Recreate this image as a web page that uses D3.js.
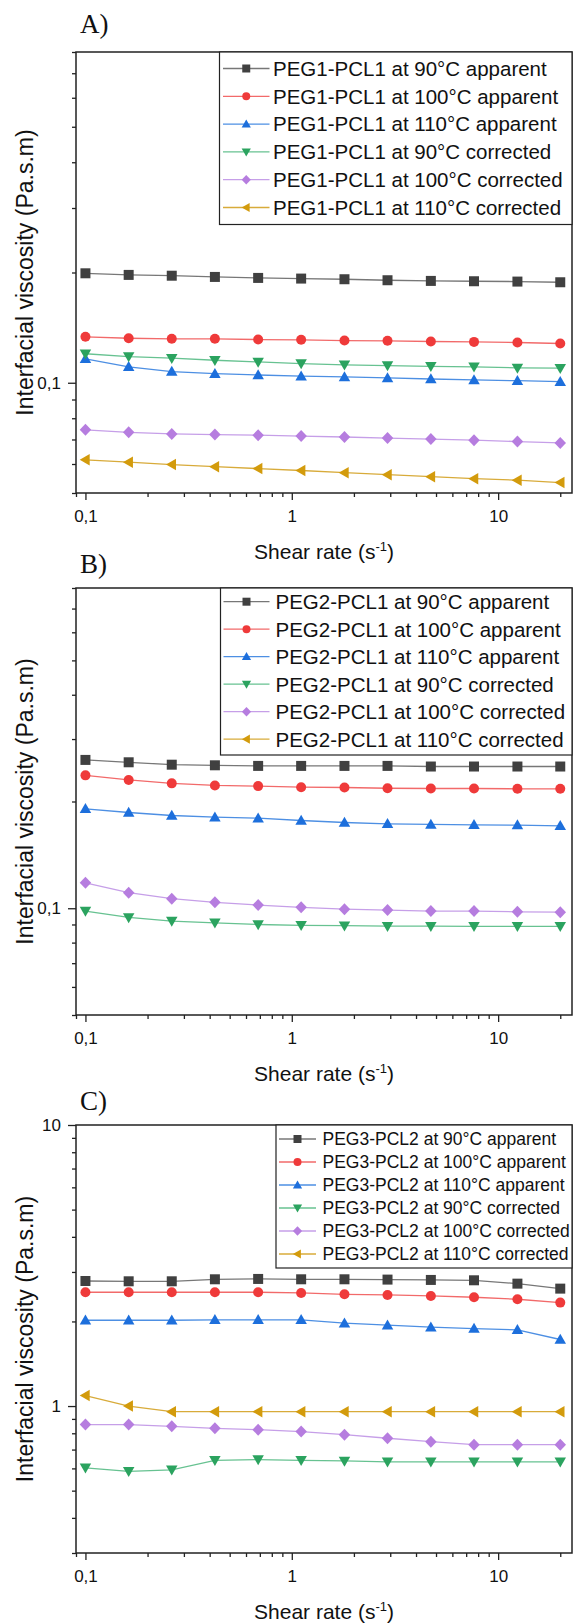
<!DOCTYPE html>
<html>
<head>
<meta charset="utf-8">
<script src="https://d3js.org/d3.v7.min.js"></script>
<style>
body { margin: 0; background: #fff; }
svg text { font-family: "Liberation Sans", Arial, sans-serif; fill: #111; }
</style>
</head>
<body>
<svg id="page"></svg>
<script>
// shear rate (s-1), same sweep in all three panels
var shearRate = [0.1, 0.162, 0.262, 0.424, 0.687, 1.11, 1.8, 2.91, 4.72, 7.64, 12.4, 20];
var xTickValues = [0.1, 1, 10];
var xTickLabels = ["0,1", "1", "10"];
var xMinorTicks = [0.09, 0.2, 0.3, 0.4, 0.5, 0.6, 0.7, 0.8, 0.9, 2, 3, 4, 5, 6, 7, 8, 9, 20];

var seriesSuffix = ["at 90°C apparent", "at 100°C apparent", "at 110°C apparent",
  "at 90°C corrected", "at 100°C corrected", "at 110°C corrected"];

// A) PEG1-PCL1
var a90app = [0.199, 0.197, 0.196, 0.1945, 0.1933, 0.1925, 0.1917, 0.1905, 0.1897, 0.1893, 0.1889, 0.1881];
var a100app = [0.1335, 0.1323, 0.1318, 0.1318, 0.1312, 0.131, 0.1304, 0.1302, 0.1296, 0.1293, 0.1288, 0.128];
var a110app = [0.1162, 0.1105, 0.1073, 0.1059, 0.105, 0.1042, 0.1037, 0.1031, 0.1024, 0.1018, 0.1013, 0.1007];
var a90cor = [0.12, 0.1179, 0.1167, 0.1152, 0.114, 0.1128, 0.1119, 0.1114, 0.1109, 0.1105, 0.1098, 0.1096];
var a100cor = [0.0744, 0.0732, 0.0725, 0.0722, 0.0719, 0.0715, 0.0711, 0.0706, 0.0702, 0.0697, 0.0691, 0.0685];
var a110cor = [0.0616, 0.0607, 0.0598, 0.059, 0.0583, 0.0576, 0.0568, 0.0561, 0.0554, 0.0547, 0.0542, 0.0534];

// B) PEG2-PCL1 (no 110°C corrected points drawn)
var b90app = [0.262, 0.258, 0.254, 0.253, 0.252, 0.252, 0.252, 0.252, 0.251, 0.251, 0.251, 0.251];
var b100app = [0.237, 0.23, 0.225, 0.222, 0.221, 0.2195, 0.219, 0.218, 0.2176, 0.2176, 0.2172, 0.2172];
var b110app = [0.1907, 0.1862, 0.1826, 0.1806, 0.1795, 0.1768, 0.1745, 0.173, 0.1723, 0.1719, 0.1716, 0.1708];
var b90cor = [0.0982, 0.0942, 0.092, 0.091, 0.09, 0.0895, 0.0893, 0.089, 0.089, 0.0889, 0.0889, 0.0889];
var b100cor = [0.118, 0.1106, 0.1064, 0.1039, 0.1021, 0.1006, 0.0994, 0.0988, 0.0982, 0.0982, 0.0977, 0.0975];
var b110cor = [];

// C) PEG3-PCL2
var c90app = [2.786, 2.779, 2.779, 2.825, 2.833, 2.825, 2.825, 2.818, 2.81, 2.802, 2.726, 2.617];
var c100app = [2.54, 2.54, 2.54, 2.54, 2.54, 2.526, 2.498, 2.485, 2.465, 2.438, 2.399, 2.334];
var c110app = [2.02, 2.02, 2.02, 2.026, 2.026, 2.026, 1.971, 1.939, 1.908, 1.887, 1.867, 1.725];
var c90cor = [0.603, 0.586, 0.593, 0.641, 0.645, 0.641, 0.638, 0.633, 0.633, 0.633, 0.633, 0.633];
var c100cor = [0.859, 0.859, 0.847, 0.833, 0.824, 0.811, 0.791, 0.768, 0.747, 0.729, 0.729, 0.729];
var c110cor = [1.09, 1.0, 0.955, 0.955, 0.955, 0.955, 0.955, 0.955, 0.955, 0.955, 0.955, 0.955];

// series look (same order in every panel)
var markerColors = ["#404040", "#ef3a3a", "#1d6fdc", "#2ba35f", "#b67ddf", "#d39b0c"];
var lineColors = ["#777777", "#f26a6a", "#4d8fe3", "#67c291", "#c69fe8", "#d8ab3a"];
var markerTypes = ["square", "circle", "up", "down", "diamond", "left"];

var panels = [
  { title: "A)", titleY: 33, prefix: "PEG1-PCL1", top: 52, bottom: 493,
    yDomain: [0.05, 0.8], yMajor: [0.1], yLabels: ["0,1"],
    yMinor: [0.05, 0.06, 0.07, 0.08, 0.09, 0.2, 0.3, 0.4, 0.5, 0.6, 0.7, 0.8],
    values: [a90app, a100app, a110app, a90cor, a100cor, a110cor],
    legend: { x0: 219.5, y1: 224.5, rowY: 68.5, rowH: 27.8, lx0: 223, lx1: 269.5, tx: 273, font: 20.5 } },
  { title: "B)", titleY: 573, prefix: "PEG2-PCL1", top: 588, bottom: 1015,
    yDomain: [0.05, 0.8], yMajor: [0.1], yLabels: ["0,1"],
    yMinor: [0.05, 0.06, 0.07, 0.08, 0.09, 0.2, 0.3, 0.4, 0.5, 0.6, 0.7, 0.8],
    values: [b90app, b100app, b110app, b90cor, b100cor, b110cor],
    legend: { x0: 220.5, y1: 755, rowY: 601.7, rowH: 27.5, lx0: 223.5, lx1: 269.5, tx: 275.5, font: 20.5 } },
  { title: "C)", titleY: 1110, prefix: "PEG3-PCL2", top: 1125, bottom: 1553,
    yDomain: [0.3, 10], yMajor: [1, 10], yLabels: ["1", "10"],
    yMinor: [0.3, 0.4, 0.5, 0.6, 0.7, 0.8, 0.9, 2, 3, 4, 5, 6, 7, 8, 9],
    values: [c90app, c100app, c110app, c90cor, c100cor, c110cor],
    legend: { x0: 276, y1: 1268, rowY: 1139, rowH: 23, lx0: 279, lx1: 316, tx: 322.5, font: 17.5 } }
];

var W = 575, H = 1624;
var plotLeft = 76, plotRight = 572;

var svg = d3.select("#page").attr("width", W).attr("height", H);
svg.append("rect").attr("width", W).attr("height", H).attr("fill", "#fff");

var x = d3.scaleLog().domain([0.09, 22.8]).range([plotLeft, plotRight]);

// marker outlines, r is half size
function shape(type, r) {
  if (type == "square") return "M" + (-r) + "," + (-r) + "h" + 2 * r + "v" + 2 * r + "h" + (-2 * r) + "Z";
  if (type == "circle") return "M" + (-r) + ",0A" + r + "," + r + " 0 1,0 " + r + ",0A" + r + "," + r + " 0 1,0 " + (-r) + ",0Z";
  if (type == "up") return "M0," + (-1.15 * r) + "L" + 1.15 * r + "," + 0.85 * r + "L" + (-1.15 * r) + "," + 0.85 * r + "Z";
  if (type == "down") return "M0," + 1.15 * r + "L" + 1.15 * r + "," + (-0.85 * r) + "L" + (-1.15 * r) + "," + (-0.85 * r) + "Z";
  if (type == "diamond") return "M0," + (-1.2 * r) + "L" + 1.15 * r + ",0L0," + 1.2 * r + "L" + (-1.15 * r) + ",0Z";
  return "M" + (-1.15 * r) + ",0L" + 0.85 * r + "," + (-1.15 * r) + "L" + 0.85 * r + "," + 1.15 * r + "Z";
}

function styleAxis(sel, size) {
  sel.attr("font-family", "Liberation Sans, Arial, sans-serif").attr("font-size", size).attr("color", "#222");
  sel.selectAll("line").attr("stroke-width", 1.3);
  sel.select(".domain").remove();
}

panels.forEach(function (p) {
  var y = d3.scaleLog().domain(p.yDomain).range([p.bottom, p.top]);
  var g = svg.append("g");

  g.append("text")
    .attr("x", 80).attr("y", p.titleY)
    .style("font-family", "'Liberation Serif', 'Times New Roman', serif")
    .style("font-size", "27px")
    .text(p.title);

  // y axis
  g.append("g").attr("transform", "translate(" + plotLeft + ",0)")
    .call(d3.axisLeft(y).tickValues(p.yMinor).tickSize(4).tickFormat(""))
    .call(styleAxis, 17);
  g.append("g").attr("transform", "translate(" + plotLeft + ",0)")
    .call(d3.axisLeft(y).tickValues(p.yMajor).tickSize(8).tickPadding(7)
      .tickFormat(function (d, i) { return p.yLabels[i]; }))
    .call(styleAxis, 17);

  // x axis
  g.append("g").attr("transform", "translate(0," + p.bottom + ")")
    .call(d3.axisBottom(x).tickValues(xMinorTicks).tickSize(4).tickFormat(""))
    .call(styleAxis, 17);
  g.append("g").attr("transform", "translate(0," + p.bottom + ")")
    .call(d3.axisBottom(x).tickValues(xTickValues).tickSize(7).tickPadding(10)
      .tickFormat(function (d, i) { return xTickLabels[i]; }))
    .call(styleAxis, 17);

  // frame
  g.append("rect")
    .attr("x", plotLeft).attr("y", p.top)
    .attr("width", plotRight - plotLeft).attr("height", p.bottom - p.top)
    .attr("fill", "none").attr("stroke", "#222").attr("stroke-width", 1.5);

  // series
  var line = d3.line().x(function (d) { return x(d[0]); }).y(function (d) { return y(d[1]); });
  p.values.forEach(function (vals, i) {
    var pts = d3.zip(shearRate.slice(0, vals.length), vals);
    if (!pts.length) return;
    g.append("path").datum(pts)
      .attr("d", line).attr("fill", "none")
      .attr("stroke", lineColors[i]).attr("stroke-width", 1.3);
    g.selectAll(".m" + i).data(pts).enter().append("path")
      .attr("class", "m" + i)
      .attr("transform", function (d) { return "translate(" + x(d[0]) + "," + y(d[1]) + ")"; })
      .attr("d", shape(markerTypes[i], 5))
      .attr("fill", markerColors[i]);
  });

  // legend
  var L = p.legend;
  g.append("rect")
    .attr("x", L.x0).attr("y", p.top)
    .attr("width", plotRight - L.x0).attr("height", L.y1 - p.top)
    .attr("fill", "#fff").attr("stroke", "#222").attr("stroke-width", 1.2);
  seriesSuffix.forEach(function (suf, i) {
    var ry = L.rowY + i * L.rowH;
    g.append("line")
      .attr("x1", L.lx0).attr("x2", L.lx1).attr("y1", ry).attr("y2", ry)
      .attr("stroke", lineColors[i]).attr("stroke-width", 1.3);
    g.append("path")
      .attr("transform", "translate(" + (L.lx0 + L.lx1) / 2 + "," + ry + ")")
      .attr("d", shape(markerTypes[i], 4))
      .attr("fill", markerColors[i]);
    g.append("text")
      .attr("x", L.tx).attr("y", ry).attr("dy", "0.36em")
      .style("font-size", L.font + "px")
      .text(p.prefix + " " + suf);
  });

  // axis titles
  g.append("text")
    .attr("transform", "translate(33," + (p.top + p.bottom) / 2 + ") rotate(-90)")
    .attr("text-anchor", "middle")
    .style("font-size", "23px")
    .text("Interfacial viscosity (Pa.s.m)");
  var xt = g.append("text")
    .attr("x", (plotLeft + plotRight) / 2).attr("y", p.bottom + 66)
    .attr("text-anchor", "middle")
    .style("font-size", "21px");
  xt.append("tspan").text("Shear rate (s");
  xt.append("tspan").attr("dy", -8).style("font-size", "13px").text("-1");
  xt.append("tspan").attr("dy", 8).text(")");
});
</script>
</body>
</html>
